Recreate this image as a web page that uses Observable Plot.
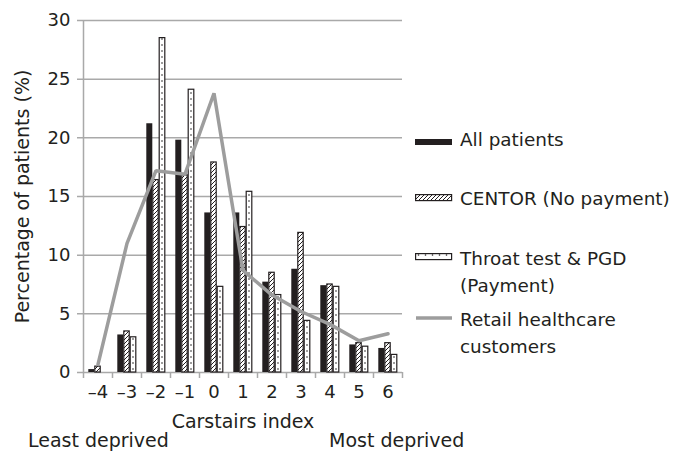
<!DOCTYPE html>
<html>
<head>
<meta charset="utf-8">
<script src="https://cdn.jsdelivr.net/npm/d3@7"></script>
<script src="https://cdn.jsdelivr.net/npm/@observablehq/plot@0.6"></script>
<style>
  html, body { margin: 0; padding: 0; background: #fff; }
  #wrap { position: relative; width: 674px; height: 452px; font-family: "DejaVu Sans", sans-serif; color: #231f20; }
  .lab { position: absolute; font-size: 19px; line-height: 27px; white-space: nowrap; }
  .leg { font-size: 18.4px; }
  .sw { position: absolute; line-height: 0; }
</style>
</head>
<body>
<svg width="0" height="0" style="position:absolute">
  <defs>
    <pattern id="hatch" patternUnits="userSpaceOnUse" width="4" height="4">
      <rect width="4" height="4" fill="#fff"/>
      <path d="M-1,1 l2,-2 M0,4 l4,-4 M3,5 l2,-2" stroke="#231f20" stroke-width="1"/>
    </pattern>
    <pattern id="dots" patternUnits="userSpaceOnUse" width="29" height="6">
      <rect width="29" height="6" fill="#fff"/>
      <circle cx="17" cy="3" r="0.8" fill="#231f20"/>
    </pattern>
    <pattern id="dotsLeg" patternUnits="userSpaceOnUse" width="7" height="8">
      <rect width="7" height="8" fill="#fff"/>
      <circle cx="3.5" cy="4" r="0.8" fill="#231f20"/>
    </pattern>
  </defs>
</svg>
<div id="wrap"></div>
<script>
const categories = [-4, -3, -2, -1, 0, 1, 2, 3, 4, 5, 6];
const tickLabels = ["–4", "–3", "–2", "–1", "0", "1", "2", "3", "4", "5", "6"];
const allPatients = [0.25, 3.2, 21.2, 19.8, 13.6, 13.6, 7.7, 8.8, 7.4, 2.35, 2.05];
const centor = [0.5, 3.5, 16.4, 16.8, 17.9, 12.4, 8.5, 11.9, 7.5, 2.5, 2.5];
const throatTest = [0, 3.0, 28.5, 24.1, 7.3, 15.4, 6.6, 4.4, 7.3, 2.2, 1.5];
const retail = [0.7, 11.0, 17.2, 16.9, 23.8, 8.7, 6.6, 5.2, 4.1, 2.7, 3.3];
const yTicks = [0, 5, 10, 15, 20, 25, 30];
const seriesNames = ["All patients", "CENTOR (No payment)", "Throat test & PGD (Payment)", "Retail healthcare customers"];

const rows = categories.map((c, i) => ({cat: c, all: allPatients[i], centor: centor[i], throat: throatTest[i], retail: retail[i]}));
const boundaries = categories.map(c => c - 0.5).concat([categories[categories.length - 1] + 0.5]);

const ink = "#231f20";
const grid = "#a9a9a9";
const font = "'DejaVu Sans', sans-serif";

const chart = Plot.plot({
  width: 674,
  height: 452,
  marginLeft: 83,
  marginRight: 272,
  marginTop: 20,
  marginBottom: 80,
  style: {fontFamily: font, fontSize: "18px", color: ink, background: "transparent", overflow: "visible"},
  x: {domain: [boundaries[0], boundaries[boundaries.length - 1]], label: null},
  y: {domain: [0, 30], label: null},
  marks: [
    Plot.ruleY(yTicks, {stroke: grid, strokeWidth: 1.5, insetLeft: -6}),
    Plot.ruleX([boundaries[0]], {stroke: grid, strokeWidth: 1.5}),
    Plot.ruleX(boundaries, {y1: 0, y2: 0, insetBottom: -6, stroke: grid, strokeWidth: 1.5}),
    Plot.rect(rows, {x1: d => d.cat - 0.5, x2: d => d.cat + 0.5, y1: 0, y2: "all", insetLeft: 5.3, insetRight: 17.7, fill: ink}),
    Plot.rect(rows, {x1: d => d.cat - 0.5, x2: d => d.cat + 0.5, y1: 0, y2: "centor", insetLeft: 11.8, insetRight: 11.8, fill: "url(#hatch)", stroke: ink, strokeWidth: 1.2}),
    Plot.rect(rows.filter(d => d.throat > 0), {x1: d => d.cat - 0.5, x2: d => d.cat + 0.5, y1: 0, y2: "throat", insetLeft: 18.2, insetRight: 5.2, fill: "url(#dots)", stroke: ink, strokeWidth: 1.2}),
    Plot.line(rows, {x: "cat", y: "retail", stroke: "#9d9d9d", strokeWidth: 3.5, strokeLinejoin: "miter"}),
    Plot.axisY(yTicks, {tickSize: 0, tickPadding: 13, fontSize: 18, fill: ink, label: null}),
    Plot.axisY(yTicks, {tickSize: 0, text: null, fontSize: 19, fill: ink, label: "Percentage of patients (%)", labelAnchor: "center", labelOffset: 68, labelArrow: "none"}),
    Plot.axisX(categories, {tickSize: 0, tickPadding: 13, fontSize: 18, fill: ink, tickFormat: d => tickLabels[categories.indexOf(d)], label: null}),
    Plot.axisX(categories, {tickSize: 0, text: null, fontSize: 19, fill: ink, label: "Carstairs index", labelAnchor: "center", labelOffset: 55, labelArrow: "none"})
  ]
});

const wrap = document.getElementById("wrap");
chart.style.position = "absolute";
chart.style.left = "0px";
chart.style.top = "0px";
wrap.appendChild(chart);

function addLabel(text, left, top, cls) {
  const d = document.createElement("div");
  d.className = "lab" + (cls ? " " + cls : "");
  d.style.left = left + "px";
  d.style.top = top + "px";
  d.innerHTML = text;
  wrap.appendChild(d);
}
function addSwatch(html, left, top) {
  const d = document.createElement("div");
  d.className = "sw";
  d.style.left = left + "px";
  d.style.top = top + "px";
  d.innerHTML = html;
  wrap.appendChild(d);
}

addLabel("Least deprived", 28, 427);
addLabel("Most deprived", 329, 427);

addSwatch(`<svg width="40" height="12"><rect x="0" y="3" width="37" height="6" fill="${ink}"/></svg>`, 415, 136);
addLabel(seriesNames[0], 460, 126, "leg");
addSwatch(`<svg width="40" height="12"><rect x="0.6" y="2.6" width="36" height="6" fill="url(#hatch)" stroke="${ink}" stroke-width="1.2"/></svg>`, 415, 192);
addLabel(seriesNames[1], 460, 185, "leg");
addSwatch(`<svg width="40" height="12"><rect x="0.6" y="2.6" width="36" height="6" fill="url(#dotsLeg)" stroke="${ink}" stroke-width="1.2"/></svg>`, 415, 251);
addLabel("Throat test &amp; PGD<br>(Payment)", 460, 245, "leg");
addSwatch(`<svg width="40" height="12"><line x1="1" y1="6" x2="37" y2="6" stroke="#9d9d9d" stroke-width="3.5"/></svg>`, 415, 312);
addLabel("Retail healthcare<br>customers", 460, 306, "leg");
</script>
</body>
</html>
